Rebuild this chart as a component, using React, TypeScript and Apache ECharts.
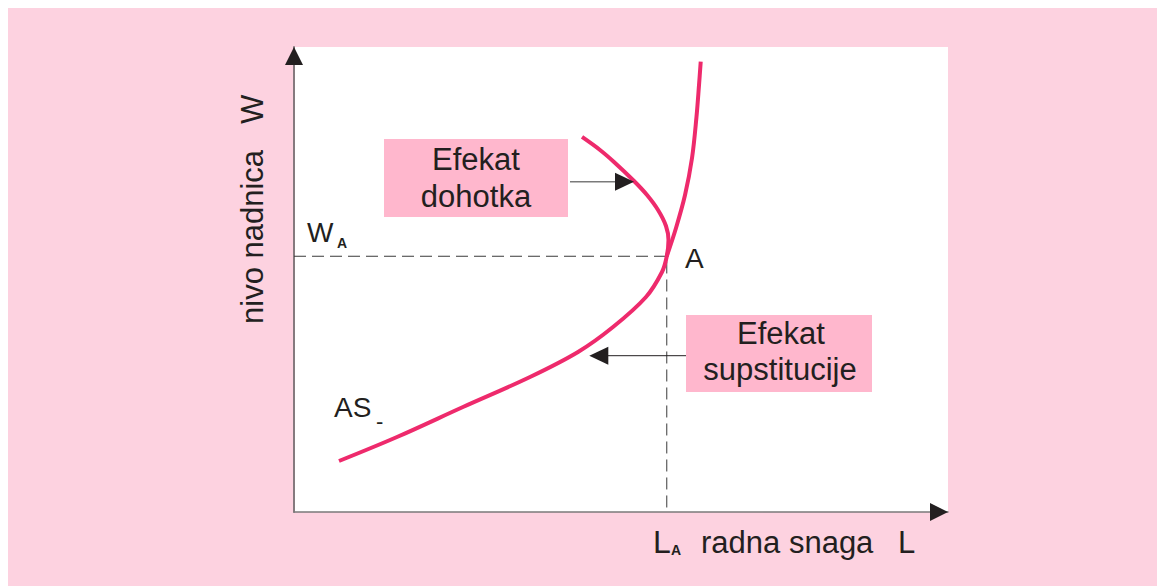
import React, { useEffect, useRef } from "react";
import * as echarts from "echarts";

// equilibrium point A
const L_A = 57.0;
const W_A = 55.0;

// backward-bending labour supply curve AS- (x = labour L, y = wage W)
const supplyL = [6.88, 15.75, 25.84, 36.09, 43.43, 48.78, 53.82, 56.27, 57.0, 57.26, 56.88, 55.66, 53.98, 51.99, 48.93, 46.79, 44.04];
const supplyW = [10.97, 16.13, 22.58, 29.03, 34.41, 39.78, 46.24, 51.61, 55.0, 58.49, 61.51, 64.95, 68.17, 71.18, 75.27, 77.85, 80.65];

// steep branch rising from A
const branchL = [57.0, 58.41, 59.79, 60.86, 61.54, 61.93, 62.19];
const branchW = [55.0, 61.08, 68.17, 76.13, 84.95, 91.83, 96.84];

const PINK_BG = "#fdd2e0";
const BOX = "#ffb7cd";
const CURVE = "#ee2a6c";
const INK = "#231f20";
const FONT = "'Liberation Sans', Arial, sans-serif";

function txt(x: number, y: number, text: string, size: number, opts: any = {}) {
  return {
    type: "text",
    x,
    y,
    rotation: opts.rotation || 0,
    z: 20,
    silent: true,
    style: {
      text,
      fill: INK,
      fontSize: size,
      fontFamily: FONT,
      fontWeight: opts.bold ? "bold" : "normal",
      align: opts.align || "left",
      textAlign: opts.align || "left",
      verticalAlign: "middle",
      textVerticalAlign: "middle",
    },
  };
}

export default function App() {
  const ref = useRef<HTMLDivElement>(null);
  useEffect(() => {
    document.documentElement.style.overflow = "hidden";
    document.body.style.overflow = "hidden";
    const chart = echarts.init(ref.current!, null, { renderer: "svg" });
    const supply = supplyL.map((l, i) => [l, supplyW[i]]);
    const branch = branchL.map((l, i) => [l, branchW[i]]);
    const dashed = [
      [0, W_A],
      [L_A, W_A],
      [L_A, 0],
    ];
    chart.setOption({
      animation: false,
      backgroundColor: PINK_BG,
      grid: { left: 286, top: 39, width: 654, height: 465, show: true, backgroundColor: "#ffffff", borderWidth: 0 },
      xAxis: {
        type: "value",
        min: 0,
        max: 100,
        axisLine: { show: true, onZero: false, lineStyle: { color: "#7a7a7a", width: 1.5 } },
        axisTick: { show: false },
        axisLabel: { show: false },
        splitLine: { show: false },
      },
      yAxis: {
        type: "value",
        min: 0,
        max: 100,
        axisLine: { show: true, onZero: false, lineStyle: { color: "#857a7e", width: 2 } },
        axisTick: { show: false },
        axisLabel: { show: false },
        splitLine: { show: false },
      },
      series: [
        {
          type: "line",
          data: dashed,
          symbol: "none",
          silent: true,
          lineStyle: { color: "#3a3a3a", width: 1, type: [12, 6] },
          z: 2,
        },
        {
          type: "line",
          data: supply,
          symbol: "none",
          smooth: 0.35,
          silent: true,
          lineStyle: { color: CURVE, width: 4 },
          z: 3,
        },
        {
          type: "line",
          data: branch,
          symbol: "none",
          smooth: 0.35,
          silent: true,
          lineStyle: { color: CURVE, width: 4 },
          z: 3,
        },
      ],
      graphic: [
        // axis arrow heads
        { type: "polygon", silent: true, z: 10, shape: { points: [[286, 39], [277, 57], [295, 57]] }, style: { fill: INK } },
        { type: "polygon", silent: true, z: 10, shape: { points: [[940, 504], [922, 495], [922, 513]] }, style: { fill: INK } },
        // Efekat dohotka box + arrow
        { type: "rect", silent: true, z: 5, shape: { x: 376, y: 131, width: 184, height: 78 }, style: { fill: BOX } },
        { type: "line", silent: true, z: 10, shape: { x1: 562, y1: 173.7, x2: 608, y2: 173.7 }, style: { stroke: "#7a7a7a", lineWidth: 1.5 } },
        { type: "polygon", silent: true, z: 10, shape: { points: [[626, 173.7], [607, 164.7], [607, 182.7]] }, style: { fill: INK } },
        txt(468, 151.3, "Efekat", 31, { align: "center" }),
        txt(468, 188.3, "dohotka", 31, { align: "center" }),
        // Efekat supstitucije box + arrow
        { type: "rect", silent: true, z: 5, shape: { x: 678, y: 307, width: 186, height: 77 }, style: { fill: BOX } },
        { type: "line", silent: true, z: 10, shape: { x1: 599, y1: 347.7, x2: 678, y2: 347.7 }, style: { stroke: INK, lineWidth: 1 } },
        { type: "polygon", silent: true, z: 10, shape: { points: [[581.3, 347.7], [600.3, 338.7], [600.3, 356.7]] }, style: { fill: INK } },
        txt(773, 325.3, "Efekat", 31, { align: "center" }),
        txt(772, 361.3, "supstitucije", 31, { align: "center" }),
        // point labels
        txt(299, 224.2, "W", 28),
        txt(329, 235.4, "A", 14, { bold: true }),
        txt(677, 250.2, "A", 28),
        txt(326, 399.2, "AS", 28),
        txt(368, 413.5, "-", 22),
        // x axis name
        txt(645, 533.8, "L", 32),
        txt(663, 542.1, "A", 14, { bold: true }),
        txt(693, 534.2, "radna snaga", 31),
        txt(890, 534.2, "L", 31),
        // y axis name
        txt(244.3, 316, "nivo nadnica   W", 31, { rotation: Math.PI / 2 }),
      ],
    });
    return () => chart.dispose();
  }, []);
  return <div ref={ref} style={{ width: 1157, height: 578 }} />;
}
